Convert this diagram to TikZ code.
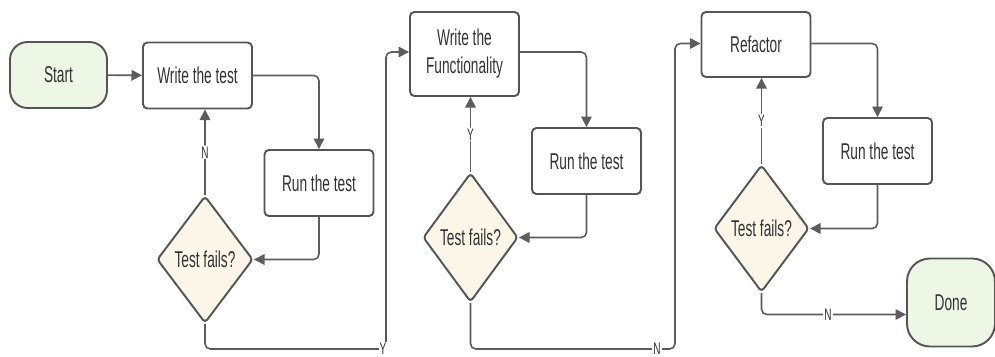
\documentclass[tikz,border=0pt]{standalone}
\usepackage{fontspec}
\setmainfont{Liberation Sans}[FakeStretch=0.6]
\usetikzlibrary{shapes.geometric,arrows.meta}

\definecolor{edgegray}{HTML}{5C5C5C}
\definecolor{boxgray}{HTML}{555555}
\definecolor{textgray}{HTML}{333333}
\definecolor{startgreen}{HTML}{EEF6E6}
\definecolor{decisioncream}{HTML}{FCF6E8}

\tikzset{
  terminal/.style={draw=boxgray, line width=1.1pt, fill=startgreen, rounded corners=10pt,
    minimum width=1.94cm, minimum height=1.32cm, text=textgray, font=\fontsize{13}{15}\selectfont},
  stepbox/.style={draw=boxgray, line width=1.1pt, fill=white, rounded corners=2.5pt,
    minimum width=2.18cm, minimum height=1.32cm, align=center, text=textgray,
    font=\fontsize{13}{16}\selectfont},
  decision/.style={diamond, draw=boxgray, line width=1.1pt, fill=decisioncream, inner sep=0pt,
    minimum width=1.92cm, minimum height=2.54cm, rounded corners=2pt, text=textgray,
    font=\fontsize{13}{15}\selectfont},
  flow/.style={draw=edgegray, line width=0.9pt, rounded corners=3pt,
    -{Triangle[length=6pt,width=6pt]}},
  lbl/.style={fill=white, inner sep=0.6pt, text=textgray, font=\fontsize{9.5}{10}\selectfont}
}

\begin{document}
\begin{tikzpicture}[x=0.02cm, y=-0.02cm]
      \useasboundingbox (0, 0) rectangle (995, 356);

      % first loop: write the test
      \node[terminal] (start) at(58.5, 75){Start};
      \node[stepbox] (wt) at(197.5, 75.5){Write the test};
      \node[stepbox] (rt1) at(319, 183){Run the test};
      \node[decision] (d1) at(205, 259.5){Test fails?};

      % second loop: functionality
      \node[stepbox, minimum height=1.68cm] (wf) at(464.5, 54){Write the\\Functionality};
      \node[stepbox] (rt2) at(586.5, 161){Run the test};
      \node[decision, minimum width=1.9cm, minimum height=2.58cm] (d2) at(470.5, 237.5){Test fails?};

      % third loop: refactor
      \node[stepbox, minimum height=1.3cm] (rf) at(756, 44.5){Refactor};
      \node[stepbox] (rt3) at(877.5, 151){Run the test};
      \node[decision, minimum width=1.9cm] (d3) at(761.5, 228.5){Test fails?};
      \node[terminal, minimum width=1.76cm, minimum height=1.76cm, rounded corners=13pt] (done) at(951, 302.5){Done};

      \coordinate (c1) at(386, 349);
      \coordinate (c2) at(675, 349);

      \draw[flow] (start) -- (wt);
      \draw[flow] (wt.east) -| (rt1.north);
      \draw[flow] (rt1.south) |- (d1.east);
      \draw[flow] (d1.north) -- node[lbl] (n1){N} (d1.north |- wt.south);
      \draw[flow] (d1.south) |- (c1) |- ([yshift=0.04cm]wf.west);
        \node[lbl] (y1) at(383, 349){Y};

      \draw[flow] ([yshift=0.04cm]wf.east) -| (rt2.north);
      \draw[flow] (rt2.south) |- (d2.east);
      \draw[flow] (d2.north) -- node[lbl] (y2){Y} (d2.north |- wf.south);
      \draw[flow] (d2.south) |- (c2) |- ([yshift=0.02cm]rf.west);
        \node[lbl] (n2) at(657, 349){N};

      \draw[flow] ([yshift=0.02cm]rf.east) -| (rt3.north);
      \draw[flow] (rt3.south) |- (d3.east);
      \draw[flow] (d3.north) -- node[lbl] (y3){Y} (d3.north |- rf.south);
      \draw[flow] (d3.south) |- ([yshift=-0.24cm]done.west);
        \node[lbl] (n3) at(828, 315){N};

    \end{tikzpicture}
\end{document}
